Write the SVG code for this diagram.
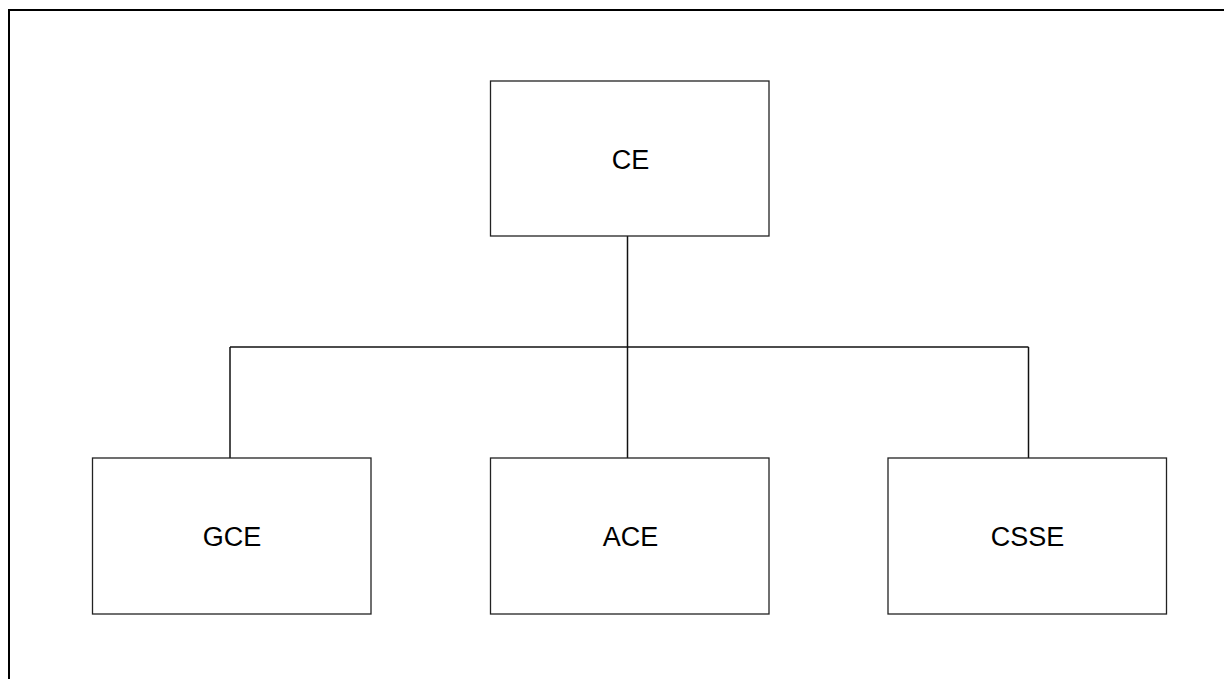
<svg xmlns="http://www.w3.org/2000/svg" width="1224" height="679" viewBox="0 0 1224 679">
<style>
.box{fill:#fff;stroke:#222;stroke-width:1.3}
.lbl{font-family:"Liberation Sans",Arial,sans-serif;font-size:27px;fill:#000;text-anchor:middle}
.conn{fill:none;stroke:#111;stroke-width:1.5}
</style>
<rect x="0" y="0" width="1224" height="679" fill="#fff"/>
<path d="M9,679 V10 H1224" fill="none" stroke="#000" stroke-width="2"/>
<g id="connectors">
<path class="conn" d="M627.5,236 V347"/>
<path class="conn" d="M230,347 H1028.5"/>
<path class="conn" d="M230,347 V458"/>
<path class="conn" d="M627.5,347 V458"/>
<path class="conn" d="M1028.5,347 V458"/>
</g>
<g id="node-ce">
<rect class="box" x="490.5" y="81" width="278.5" height="155"/>
<text class="lbl" x="630.5" y="169">CE</text>
</g>
<g id="node-gce">
<rect class="box" x="92.5" y="458" width="278.5" height="156"/>
<text class="lbl" x="232" y="546">GCE</text>
</g>
<g id="node-ace">
<rect class="box" x="490.5" y="458" width="278.5" height="156"/>
<text class="lbl" x="630.5" y="546">ACE</text>
</g>
<g id="node-csse">
<rect class="box" x="888" y="458" width="278.5" height="156"/>
<text class="lbl" x="1027.5" y="546">CSSE</text>
</g>
</svg>
